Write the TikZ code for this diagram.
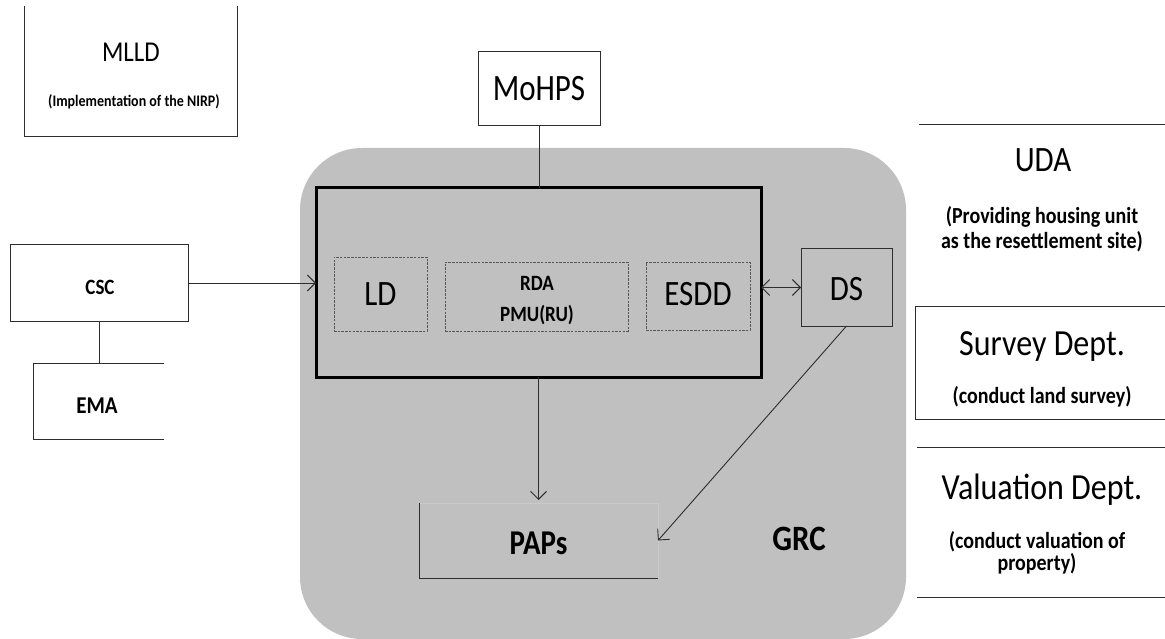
\documentclass[tikz,border=0pt]{standalone}
\usepackage{fontspec}
\setmainfont{Carlito}
\usetikzlibrary{arrows.meta}
\definecolor{grcgray}{RGB}{192,192,192}
\definecolor{edge}{RGB}{45,45,45}
\newcommand{\vstretch}[1]{\scalebox{1}[1.15]{#1}}
\tikzset{
  area/.style={inner sep=0pt, outer sep=0pt},
  solidbox/.style={area, draw=edge, line width=1pt},
  dashbox/.style={area, draw=edge!80, line width=0.7pt, dash pattern=on 2.5pt off 1.2pt},
  lbl/.style={inner sep=0pt, font=\fontsize{31}{34}\selectfont},
  blbl/.style={inner sep=0pt, font=\bfseries\fontsize{20}{25}\selectfont},
  conn/.style={draw=edge, line width=0.9pt},
  tip/.tip={Straight Barb[length=8pt,width=16pt,line width=0.9pt]},
  arr/.style={conn, -tip},
  arrboth/.style={conn, tip-tip}
}
\begin{document}
\begin{tikzpicture}[x=1pt,y=-1pt]
\useasboundingbox (0,0) rectangle (1165,639);
\fill[white] (0,0) rectangle (1165,639);

% GRC gray area
\node[area, fill=grcgray, rounded corners=62pt, minimum width=606pt, minimum height=491pt] (grcarea) at (603,393.5) {};

% MLLD
\node[area, minimum width=213pt, minimum height=130pt] (mlld) at (130.5,71) {};
\draw[conn] (mlld.north west) -- (mlld.south west) -- (mlld.south east) -- (mlld.north east);
\node[inner sep=0pt, font=\fontsize{25}{28}\selectfont] (mlldt) at (131,52) {\vstretch{MLLD}};
\node[inner sep=0pt, font=\bfseries\fontsize{14}{16}\selectfont] (mllds) at (134,102) {\vstretch{(Implementation of the NIRP)}};

% MoHPS
\node[solidbox, minimum width=122pt, minimum height=74pt, font=\fontsize{31}{34}\selectfont] (mohps) at (539,89) {\scalebox{1}[1.2]{MoHPS}};

% Main box
\node[area, draw=black, line width=3pt, minimum width=445pt, minimum height=189pt] (main) at (538.5,282.5) {};

% inner dashed boxes
\node[dashbox, minimum width=93pt, minimum height=74pt] (ld) at (380.5,294) {};
\node[lbl] (ldt) at (380.5,294) {\vstretch{LD}};
\node[dashbox, minimum width=183pt, minimum height=69pt] (rda) at (536.5,296.5) {};
\node[inner sep=0pt, font=\bfseries\fontsize{19}{22}\selectfont] (rdat1) at (537,283) {\vstretch{RDA}};
\node[inner sep=0pt, font=\bfseries\fontsize{19}{22}\selectfont] (rdat2) at (537,315) {\vstretch{PMU(RU)}};
\node[dashbox, minimum width=104pt, minimum height=68pt] (esdd) at (698,296) {};
\node[lbl] (esddt) at (698,294) {\vstretch{ESDD}};

% DS
\node[solidbox, minimum width=91pt, minimum height=77pt] (ds) at (846.5,287.5) {};
\node[lbl] (dst) at (846.5,289) {\vstretch{DS}};

% PAPs
\node[area, minimum width=239pt, minimum height=75pt] (paps) at (538.5,540.5) {};
\draw[draw=edge!25, line width=0.6pt] (paps.north west) -- (paps.north east) -- (paps.south east);
\draw[conn] (paps.north west) -- (paps.south west) -- (paps.south east);
\node[inner sep=0pt, font=\bfseries\fontsize{29}{32}\selectfont] (papst) at (538.5,543) {\scalebox{1}[1.2]{PAPs}};

% GRC label
\node[inner sep=0pt, font=\bfseries\fontsize{31}{34}\selectfont] (grct) at (799,539) {\vstretch{GRC}};

% CSC and EMA
\node[solidbox, minimum width=178pt, minimum height=76pt] (csc) at (99,283) {};
\node[inner sep=0pt, font=\bfseries\fontsize{19}{22}\selectfont] (csct) at (100,287) {\vstretch{CSC}};
\node[area, minimum width=131pt, minimum height=76pt] (ema) at (98.5,401) {};
\draw[conn] (ema.north east) -- (ema.north west) -- (ema.south west) -- (ema.south east);
\node[inner sep=0pt, font=\bfseries\fontsize{21}{24}\selectfont] (emat) at (97,406) {\vstretch{EMA}};

% connectors
\draw[conn] (csc.south) -- (csc.south |- ema.north);
\draw[arr] (csc.east) -- (csc.east -| main.west);
\draw[conn] (mohps.south) -- (mohps.south |- main.north);
\draw[arr, shorten >=3pt] (main.south) -- (paps.north);
\draw[arrboth] (main.east |- ds.west) -- (ds.west);
\draw[arr] (ds.south) -- (paps.east);

% UDA
\node[area, minimum width=246pt, minimum height=144pt] (uda) at (1042,196) {};
\draw[conn] (uda.north west) -- (uda.north east);
\node[lbl] (udat) at (1043,160) {\vstretch{UDA}};
\node[blbl] (udas1) at (1042,217) {\vstretch{(Providing housing unit}};
\node[blbl] (udas2) at (1042,242) {\vstretch{as the resettlement site)}};

% Survey Dept.
\node[area, minimum width=252pt, minimum height=113pt] (survey) at (1041,362.5) {};
\draw[conn] (survey.north east) -- (survey.north west) -- (survey.south west) -- (survey.south east);
\node[lbl, font=\fontsize{32}{35}\selectfont] (surveyt) at (1042,347) {\vstretch{Survey Dept.}};
\node[blbl] (surveys) at (1042,397) {\vstretch{(conduct land survey)}};

% Valuation Dept.
\node[area, minimum width=248pt, minimum height=150pt] (valuation) at (1041,522) {};
\draw[conn] (valuation.north west) -- (valuation.north east);
\draw[conn] (valuation.south west) -- (valuation.south east);
\node[lbl, font=\fontsize{32}{35}\selectfont] (valuationt) at (1042,490) {\vstretch{Valuation Dept.}};
\node[blbl] (valuations1) at (1037,542) {\vstretch{(conduct valuation of}};
\node[blbl] (valuations2) at (1037,564) {\vstretch{property)}};
\end{tikzpicture}
\end{document}
